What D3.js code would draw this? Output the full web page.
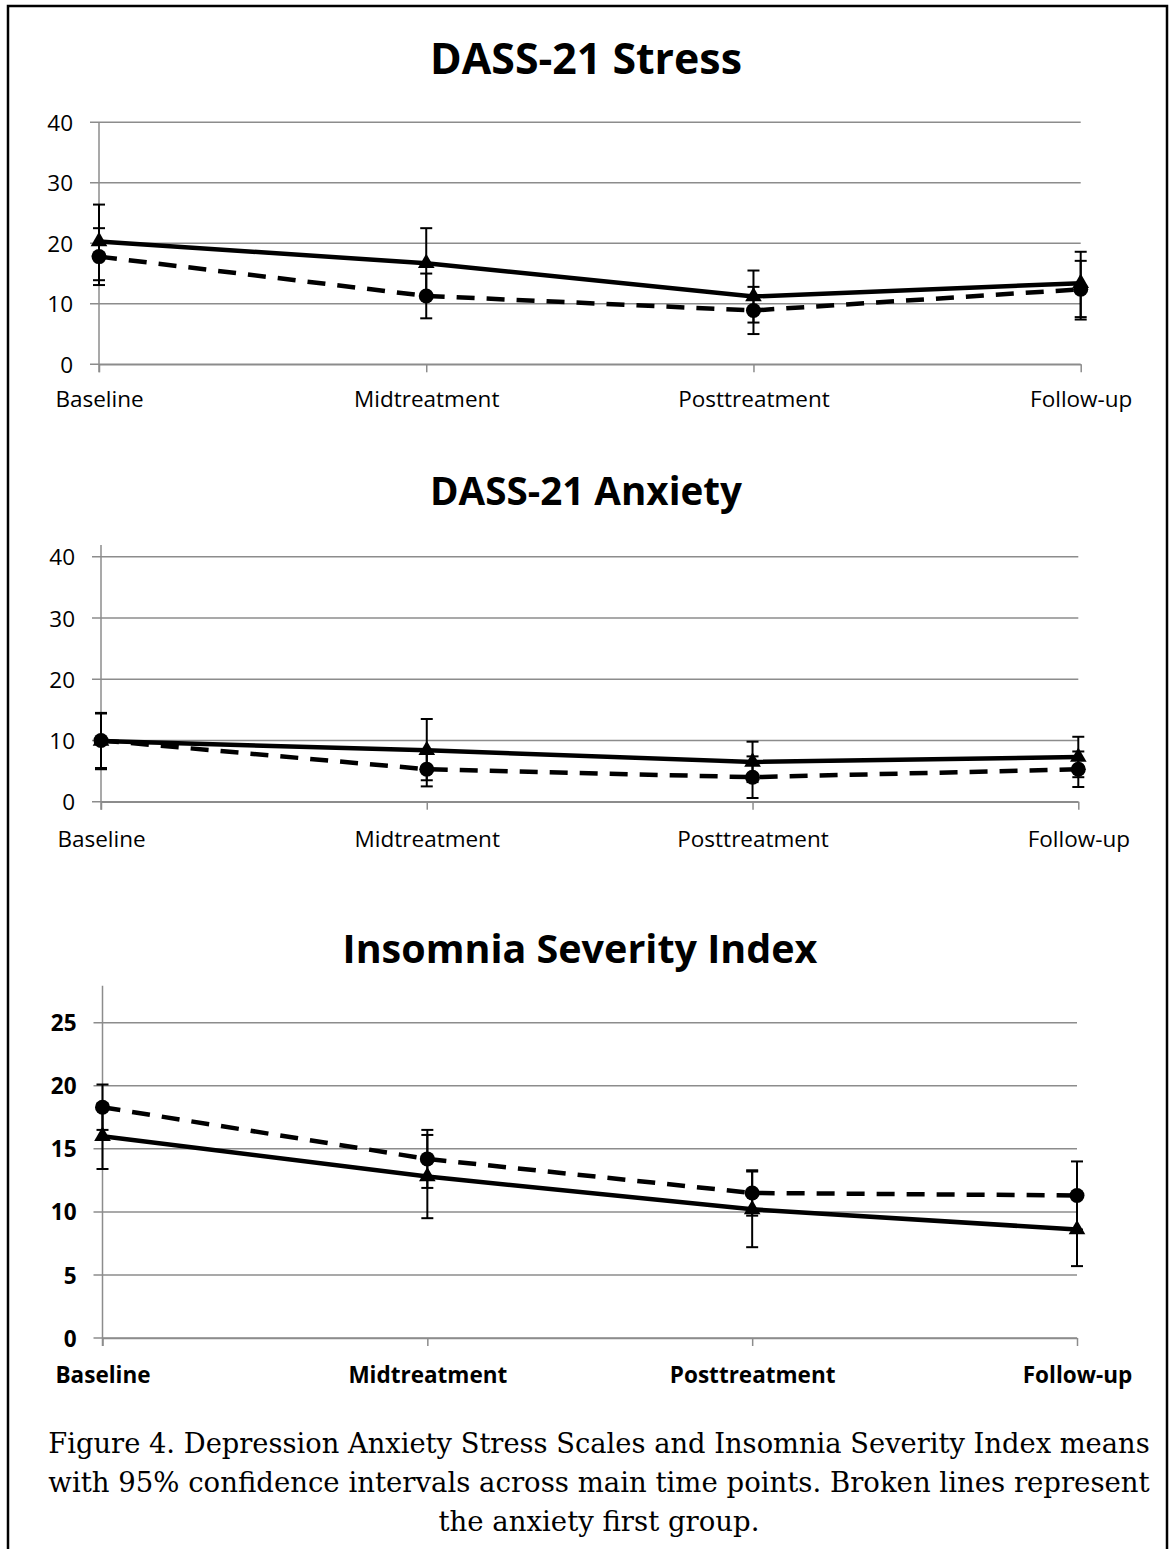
<!DOCTYPE html>
<html><head><meta charset="utf-8">
<script src="https://cdn.jsdelivr.net/npm/d3@7"></script>
<style>
html,body{margin:0;padding:0;background:#fff;}
svg{display:block;}
</style></head>
<body>
<svg id="chart" width="1173" height="1549"></svg>
<script>
// ---- data ----
const categories = ["Baseline", "Midtreatment", "Posttreatment", "Follow-up"];

const stressSolid   = [20.3, 16.7, 11.2, 13.4];
const stressSolidLo = [13.9, 10.9, 6.9, 7.8];
const stressSolidHi = [26.4, 22.5, 15.5, 18.6];
const stressDash    = [17.8, 11.3, 8.9, 12.4];
const stressDashLo  = [13.1, 7.6, 5.0, 7.4];
const stressDashHi  = [22.5, 15.0, 12.8, 17.1];

const anxSolid   = [9.9, 8.4, 6.5, 7.3];
const anxSolidLo = [5.3, 3.5, 3.2, 4.0];
const anxSolidHi = [14.4, 13.5, 9.8, 10.6];
const anxDash    = [10.0, 5.3, 4.0, 5.3];
const anxDashLo  = [5.5, 2.5, 0.6, 2.4];
const anxDashHi  = [14.5, 8.1, 7.4, 8.2];

const isiSolid   = [16.0, 12.8, 10.2, 8.6];
const isiSolidLo = [13.4, 9.5, 7.2, 5.7];
const isiSolidHi = [18.6, 16.1, 13.2, 11.5];
const isiDash    = [18.3, 14.2, 11.5, 11.3];
const isiDashLo  = [16.5, 11.9, 9.7, 8.6];
const isiDashHi  = [20.1, 16.5, 13.3, 14.0];

const dassTicks = [0, 10, 20, 30, 40];
const isiTicks  = [0, 5, 10, 15, 20, 25];

const titles = ["DASS-21 Stress", "DASS-21 Anxiety", "Insomnia Severity Index"];
const captionLines = [
  "Figure 4. Depression Anxiety Stress Scales and Insomnia Severity Index means",
  "with 95% confidence intervals across main time points. Broken lines represent",
  "the anxiety first group."
];

// ---- layout ----
const svg = d3.select("#chart");
const GRID = "#8c8c8c";
const FONT = "'Open Sans', sans-serif";

svg.append("rect").attr("x", 8).attr("y", 6).attr("width", 1159).attr("height", 1560)
  .attr("fill", "none").attr("stroke", "#000").attr("stroke-width", 2.5);

function fitText(sel, targetW) {
  const w = sel.node().getComputedTextLength();
  const fs = parseFloat(sel.attr("font-size"));
  sel.attr("font-size", fs * targetW / w);
}

const panels = [
  {title: titles[0], titleCx: 586, titleBase: 74, titleW: 312, x0: 99, x1: 1080.7, yBottom: 364.3, yTop: 122.3, axisTop: 122.3,
   ticks: dassTicks, max: 40, labelBase: 406.7, bold: false,
   solid: [stressSolid, stressSolidLo, stressSolidHi], dash: [stressDash, stressDashLo, stressDashHi]},
  {title: titles[1], titleCx: 586, titleBase: 505, titleW: 312, x0: 101, x1: 1078.3, yBottom: 801.7, yTop: 556.7, axisTop: 545,
   ticks: dassTicks, max: 40, labelBase: 846.7, bold: false,
   solid: [anxSolid, anxSolidLo, anxSolidHi], dash: [anxDash, anxDashLo, anxDashHi]},
  {title: titles[2], titleCx: 580, titleBase: 963, titleW: 475, x0: 102.5, x1: 1077, yBottom: 1338, yTop: 1022.7, axisTop: 985.7,
   ticks: isiTicks, max: 25, labelBase: 1383, bold: true,
   solid: [isiSolid, isiSolidLo, isiSolidHi], dash: [isiDash, isiDashLo, isiDashHi]}
];

panels.forEach(p => {
  const g = svg.append("g");
  const x = d3.scalePoint().domain(categories).range([p.x0, p.x1]);
  const y = d3.scaleLinear().domain([0, p.max]).range([p.yBottom, p.yTop]);

  // title
  const t = g.append("text").text(p.title).attr("x", p.titleCx).attr("y", p.titleBase)
    .attr("text-anchor", "middle").attr("font-family", FONT).attr("font-weight", 700)
    .attr("font-size", 36).attr("fill", "#000");
  fitText(t, p.titleW);

  // gridlines (with outside ticks)
  g.append("g").selectAll("line").data(p.ticks).join("line")
    .attr("x1", p.x0 - 9).attr("x2", p.x1)
    .attr("y1", d => y(d)).attr("y2", d => y(d))
    .attr("stroke", GRID).attr("stroke-width", 1.5);

  // y axis labels via d3 axis
  const ya = g.append("g").attr("transform", `translate(${p.x0 - 26},0)`)
    .call(d3.axisLeft(y).tickValues(p.ticks).tickSize(0).tickPadding(0).tickFormat(d3.format("d")));
  ya.select(".domain").remove();
  ya.selectAll("text").attr("font-family", FONT).attr("font-size", 22.5)
    .attr("font-weight", p.bold ? 700 : 400).attr("fill", "#000").attr("dy", "0.36em");

  // vertical axis line
  g.append("line").attr("x1", p.x0).attr("x2", p.x0).attr("y1", p.axisTop).attr("y2", p.yBottom + 8)
    .attr("stroke", GRID).attr("stroke-width", 1.5);

  // x axis
  const xa = g.append("g").attr("transform", `translate(0,${p.yBottom})`)
    .call(d3.axisBottom(x).tickSize(8).tickSizeOuter(0));
  xa.select(".domain").attr("stroke", GRID).attr("stroke-width", 1.5);
  xa.selectAll(".tick line").attr("stroke", GRID).attr("stroke-width", 1.5);
  xa.selectAll("text").attr("font-family", FONT).attr("font-size", 22.5)
    .attr("font-weight", p.bold ? 700 : 400).attr("fill", "#000")
    .attr("y", p.labelBase - p.yBottom).attr("dy", 0);

  const line = d3.line().x((d, i) => x(categories[i])).y(d => y(d));

  // series lines
  g.append("path").datum(p.dash[0]).attr("d", line).attr("fill", "none")
    .attr("stroke", "#000").attr("stroke-width", 4.5).attr("stroke-dasharray", "18,12");
  g.append("path").datum(p.solid[0]).attr("d", line).attr("fill", "none")
    .attr("stroke", "#000").attr("stroke-width", 4.5);

  // error bars
  function errBars(ser) {
    const eg = g.append("g").attr("stroke", "#000").attr("stroke-width", 2);
    ser[0].forEach((v, i) => {
      const cx = x(categories[i]);
      eg.append("line").attr("x1", cx).attr("x2", cx).attr("y1", y(ser[1][i])).attr("y2", y(ser[2][i]));
      eg.append("line").attr("x1", cx - 6).attr("x2", cx + 6).attr("y1", y(ser[1][i])).attr("y2", y(ser[1][i]));
      eg.append("line").attr("x1", cx - 6).attr("x2", cx + 6).attr("y1", y(ser[2][i])).attr("y2", y(ser[2][i]));
    });
  }
  errBars(p.solid);
  errBars(p.dash);

  // markers
  g.append("g").selectAll("path").data(p.solid[0]).join("path")
    .attr("d", d3.symbol(d3.symbolTriangle, 120)())
    .attr("transform", (d, i) => `translate(${x(categories[i])},${y(d)})`)
    .attr("fill", "#000");
  g.append("g").selectAll("circle").data(p.dash[0]).join("circle")
    .attr("cx", (d, i) => x(categories[i])).attr("cy", d => y(d)).attr("r", 7.5)
    .attr("fill", "#000");
});

// caption
const capBases = [1453, 1492, 1531];
const capW = [1102, 1102, 347];
captionLines.forEach((s, i) => {
  const t = svg.append("text").text(s).attr("x", 599).attr("y", capBases[i])
    .attr("text-anchor", "middle").attr("font-family", "'DejaVu Serif', Georgia, serif")
    .attr("font-size", 26).attr("fill", "#000");
  if (i < 2) fitText(t, capW[i]);
});
// keep third line same size as second
const cap = svg.selectAll("text").filter(function(){ return this.textContent === captionLines[2]; });
const cap2 = svg.selectAll("text").filter(function(){ return this.textContent === captionLines[1]; });
cap.attr("font-size", cap2.attr("font-size"));
</script>
</body></html>
